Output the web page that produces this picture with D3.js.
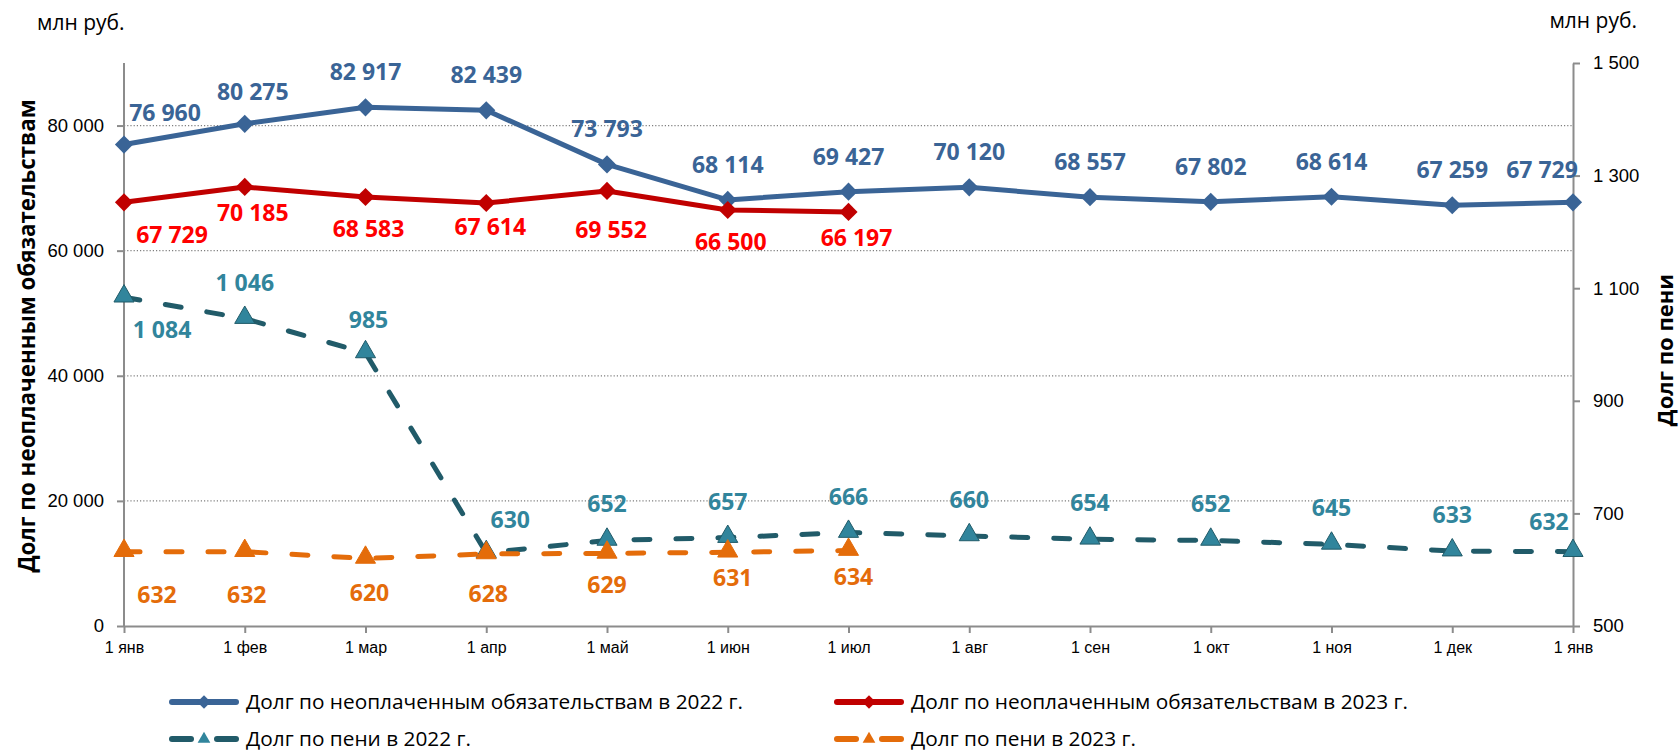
<!DOCTYPE html>
<html>
<head>
<meta charset="utf-8">
<script src="https://cdn.jsdelivr.net/npm/d3@7"></script>
<style>
  body { margin: 0; background: #fff; }
  svg { font-family: "Open Sans", "Noto Sans", sans-serif; }
  .axis path, .axis line { stroke: #8c8c8c; stroke-width: 2; }
  .axis text { fill: #000; }
</style>
</head>
<body>
<div class="chart"></div>
<script>
// подписи по оси X
const monthLabels = ['1 янв','1 фев','1 мар','1 апр','1 май','1 июн','1 июл','1 авг','1 сен','1 окт','1 ноя','1 дек','1 янв'];

// долг по неоплаченным обязательствам, млн руб.
const debt2022 = [76960, 80275, 82917, 82439, 73793, 68114, 69427, 70120, 68557, 67802, 68614, 67259, 67729];
const debt2023 = [67729, 70185, 68583, 67614, 69552, 66500, 66197];

// долг по пени, млн руб. (правая ось)
const peni2022 = [1084, 1046, 985, 630, 652, 657, 666, 660, 654, 652, 645, 633, 632];
const peni2023 = [632, 632, 620, 628, 629, 631, 634];

const leftTicks = [0, 20000, 40000, 60000, 80000];
const rightTicks = [500, 700, 900, 1100, 1300, 1500];

const seriesNames = [
  'Долг по неоплаченным обязательствам в 2022 г.',
  'Долг по неоплаченным обязательствам в 2023 г.',
  'Долг по пени в 2022 г.',
  'Долг по пени в 2023 г.'
];

const width = 1679, height = 752;
const fmt = v => d3.format(',')(v).replace(/,/g, ' ');

const svg = d3.select('.chart').append('svg')
  .attr('width', width)
  .attr('height', height);

const x = d3.scalePoint().domain(d3.range(monthLabels.length)).range([124, 1573]);
const yL = d3.scaleLinear().domain([0, 90000]).range([626, 63]);
const yR = d3.scaleLinear().domain([500, 1500]).range([626, 63]);

// сетка
svg.append('g').selectAll('line')
  .data(leftTicks.filter(d => d > 0))
  .join('line')
  .attr('x1', x.range()[0]).attr('x2', x.range()[1])
  .attr('y1', d => yL(d)).attr('y2', d => yL(d))
  .attr('stroke', '#7f7f7f')
  .attr('stroke-width', 1.2)
  .attr('stroke-dasharray', '1.2,2');

// оси
const axL = svg.append('g').attr('class', 'axis')
  .attr('transform', `translate(${x.range()[0]},0)`)
  .call(d3.axisLeft(yL).tickValues(leftTicks).tickFormat(fmt).tickSizeInner(7).tickSizeOuter(0).tickPadding(13));
axL.select('.domain').attr('d', `M0,${yL(0)}V${yL(90000)}`);
axL.selectAll('text').style('font-size', '18.5px');

const axR = svg.append('g').attr('class', 'axis')
  .attr('transform', `translate(${x.range()[1]},0)`)
  .call(d3.axisRight(yR).tickValues(rightTicks).tickFormat(fmt).tickSizeInner(7).tickSizeOuter(0).tickPadding(13));
axR.selectAll('text').style('font-size', '18.5px');

const axX = svg.append('g').attr('class', 'axis')
  .attr('transform', `translate(0,${yL(0)})`)
  .call(d3.axisBottom(x).tickFormat(i => monthLabels[i]).tickSizeInner(7).tickSizeOuter(0).tickPadding(9));
axX.selectAll('text').style('font-size', '16px');

// линии
const diamond = d3.symbol(d3.symbolSquare, 165);
const triangle = d3.symbol(d3.symbolTriangle, 175);

function drawSeries(values, yScale, opt) {
  const pts = values.map((v, i) => [x(i), yScale(v)]);
  svg.append('path')
    .attr('d', d3.line()(pts))
    .attr('fill', 'none')
    .attr('stroke', opt.color)
    .attr('stroke-width', 5)
    .attr('stroke-linecap', opt.dash ? 'round' : 'butt')
    .attr('stroke-linejoin', 'round')
    .attr('stroke-dasharray', opt.dash || null);
  svg.append('g').selectAll('path')
    .data(pts)
    .join('path')
    .attr('d', opt.tri ? triangle() : diamond())
    .attr('transform', d => opt.tri ? `translate(${d[0]},${d[1] - 1})` : `translate(${d[0]},${d[1]}) rotate(45)`)
    .attr('fill', opt.marker)
    .attr('stroke', opt.markerStroke || 'none')
    .attr('stroke-width', 1);
}

drawSeries(debt2022, yL, {color: '#3a6496', marker: '#3a6496'});
drawSeries(debt2023, yL, {color: '#c00000', marker: '#c00000'});
drawSeries(peni2022, yR, {color: '#215b69', marker: '#31859c', markerStroke: '#215b69', dash: '16,26', tri: true});
drawSeries(peni2023, yR, {color: '#e46c0a', marker: '#e46c0a', markerStroke: '#e46c0a', dash: '16,26', tri: true});

// подписи данных (смещения от точки)
const off2022 = {0: [41, -32], 1: [8, -32], 12: [-31, -32]};
const off2023 = [[48, 33], [8, 26], [3, 32], [4, 24], [4, 39], [3, 32], [8, 26]];
const offPeni2022 = {0: [38, 33], 2: [3, -33], 3: [24, -33], 12: [-24, -30]};
const offPeni2023 = [[33, 43], [2, 43], [4, 35], [2, 40], [0, 32], [5, 26], [5, 26]];

function drawLabels(values, yScale, color, offset) {
  svg.append('g').selectAll('text')
    .data(values)
    .join('text')
    .attr('x', (d, i) => x(i) + offset(i)[0])
    .attr('y', (d, i) => yScale(d) + offset(i)[1])
    .attr('dy', '0.35em')
    .attr('text-anchor', 'middle')
    .style('font-size', '23px')
    .style('font-weight', 'bold')
    .attr('fill', color)
    .text(fmt);
}

drawLabels(debt2022, yL, '#3a6496', i => off2022[i] || [0, -35]);
drawLabels(debt2023, yL, '#ff0000', i => off2023[i]);
drawLabels(peni2022, yR, '#31859c', i => offPeni2022[i] || [0, -36]);
drawLabels(peni2023, yR, '#e46c0a', i => offPeni2023[i]);

// единицы и названия осей
svg.append('text').attr('x', 37).attr('y', 30).style('font-size', '21px').text('млн руб.');
svg.append('text').attr('x', 1637).attr('y', 28).attr('text-anchor', 'end').style('font-size', '21px').text('млн руб.');

svg.append('text')
  .attr('transform', 'translate(35,336) rotate(-90)')
  .attr('text-anchor', 'middle')
  .style('font-size', '22.4px').style('font-weight', 'bold')
  .text('Долг по неоплаченным обязательствам');

svg.append('text')
  .attr('transform', 'translate(1673,350) rotate(-90)')
  .attr('text-anchor', 'middle')
  .style('font-size', '22px').style('font-weight', 'bold')
  .text('Долг по пени');

// легенда
const legendItems = [
  {name: seriesNames[0], color: '#3a6496', marker: '#3a6496', x: 169, y: 702},
  {name: seriesNames[1], color: '#c00000', marker: '#c00000', x: 834, y: 702},
  {name: seriesNames[2], color: '#215b69', marker: '#31859c', x: 169, y: 739, tri: true},
  {name: seriesNames[3], color: '#e46c0a', marker: '#e46c0a', x: 834, y: 739, tri: true}
];

const lg = svg.append('g').selectAll('g')
  .data(legendItems)
  .join('g')
  .attr('transform', d => `translate(${d.x},${d.y})`);

lg.each(function(d) {
  const g = d3.select(this);
  if (d.tri) {
    g.append('line').attr('x1', 3).attr('x2', 22).attr('stroke', d.color).attr('stroke-width', 6).attr('stroke-linecap', 'round');
    g.append('line').attr('x1', 48).attr('x2', 67).attr('stroke', d.color).attr('stroke-width', 6).attr('stroke-linecap', 'round');
    g.append('path').attr('d', d3.symbol(d3.symbolTriangle, 70)()).attr('transform', 'translate(35,0)').attr('fill', d.marker);
  } else {
    g.append('line').attr('x1', 3).attr('x2', 67).attr('stroke', d.color).attr('stroke-width', 6).attr('stroke-linecap', 'round');
    g.append('path').attr('d', d3.symbol(d3.symbolSquare, 90)()).attr('transform', 'translate(35,0) rotate(45)').attr('fill', d.marker);
  }
  g.append('text').attr('x', 77).attr('dy', '0.35em').style('font-size', '20.8px').text(d.name);
});
</script>
</body>
</html>
